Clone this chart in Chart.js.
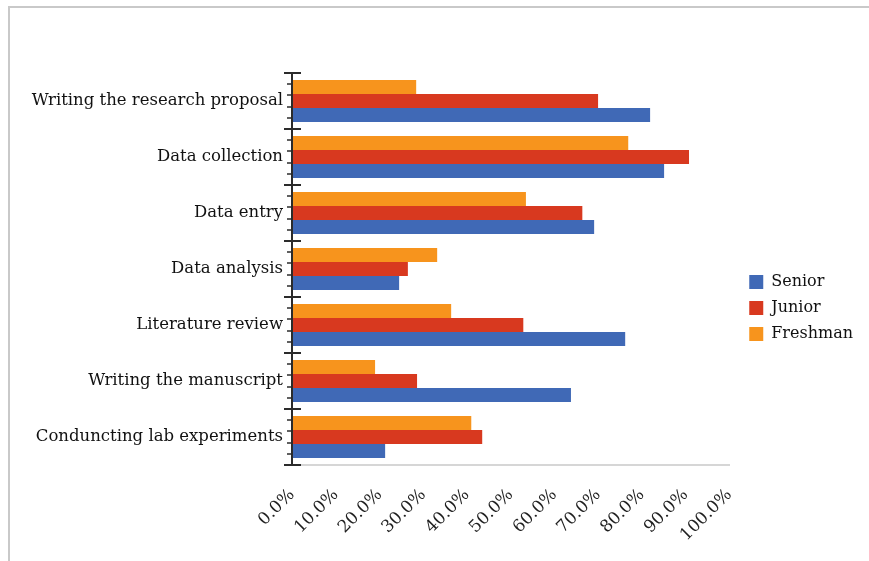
<!DOCTYPE html>
<html>
<head>
<meta charset="utf-8">
<script src="https://cdn.jsdelivr.net/npm/chart.js@4"></script>
<style>
  html, body { margin: 0; padding: 0; background: #fff; }
  #wrap { position: relative; width: 869px; height: 561px; }
  #frame { position: absolute; left: 8px; top: 6px; right: 0; bottom: 0;
           border-top: 2px solid #c9c9c9; border-left: 2px solid #c9c9c9; pointer-events: none; }
</style>
</head>
<body>
<div id="wrap">
  <canvas id="chart" width="869" height="561"></canvas>
  <div id="frame"></div>
</div>
<script>
// categories, top to bottom
const categories = [
  'Writing the research proposal',
  'Data collection',
  'Data entry',
  'Data analysis',
  'Literature review',
  'Writing the manuscript',
  'Conduncting lab experiments'
];
// percent values per group
const senior   = [81.9, 85.1, 69.1, 24.5, 76.2, 63.8, 21.3];
const junior   = [70.0, 90.8, 66.4, 26.5, 52.9, 28.6, 43.5];
const freshman = [28.4, 76.9, 53.5, 33.2, 36.4, 19.0, 41.0];
const xMin = 0, xMax = 100, xStep = 10;

const serif = 'DejaVu Serif';

// axis line + Excel-like major/minor tick marks on the category axis
const catTicks = {
  id: 'catTicks',
  afterDatasetsDraw(chart) {
    const ctx = chart.ctx;
    const area = chart.chartArea;
    const n = chart.scales.y.ticks.length;
    const band = (area.bottom - area.top) / n;
    const x = area.left;
    ctx.save();
    ctx.strokeStyle = '#2b2b2b';
    ctx.lineWidth = 2;
    ctx.beginPath();
    ctx.moveTo(x, area.top);
    ctx.lineTo(x, area.bottom);
    ctx.stroke();
    for (let i = 0; i <= n; i++) {
      const y = Math.round(area.top + i * band);
      ctx.lineWidth = 2;
      ctx.beginPath();
      ctx.moveTo(x - 8, y);
      ctx.lineTo(x + 9, y);
      ctx.stroke();
      if (i < n) {
        ctx.lineWidth = 1.5;
        for (let j = 1; j < 5; j++) {
          const ym = Math.round(area.top + i * band + j * band / 5);
          ctx.beginPath();
          ctx.moveTo(x - 5, ym);
          ctx.lineTo(x, ym);
          ctx.stroke();
        }
      }
    }
    ctx.restore();
  }
};

// push the legend a little away from the plot, like the original
const legendGap = {
  id: 'legendGap',
  afterLayout(chart) {
    const lg = chart.legend;
    if (!lg) return;
    lg.left += 10;
    lg.right += 10;
  }
};

new Chart(document.getElementById('chart'), {
  type: 'bar',
  data: {
    labels: categories,
    datasets: [
      { label: 'Freshman', data: freshman, backgroundColor: '#f7941d' },
      { label: 'Junior', data: junior, backgroundColor: '#d8391f' },
      { label: 'Senior', data: senior, backgroundColor: '#4069b6' }
    ]
  },
  options: {
    indexAxis: 'y',
    responsive: false,
    animation: false,
    categoryPercentage: 0.75,
    barPercentage: 1.0,
    layout: { padding: { top: 73, right: 16, bottom: 18, left: 0 } },
    scales: {
      x: {
        min: xMin,
        max: xMax,
        grid: { display: false, drawTicks: false },
        border: { display: true, color: '#d6d6d6', width: 2 },
        ticks: {
          stepSize: xStep,
          maxRotation: 45,
          minRotation: 45,
          padding: 20,
          color: '#1f1f1f',
          font: { family: serif, size: 17 },
          callback: v => v.toFixed(1) + '%'
        },
        afterFit: s => { s.height = 78; }
      },
      y: {
        grid: { display: false, drawTicks: false },
        border: { display: false },
        ticks: {
          padding: 9,
          color: '#111',
          font: { family: serif, size: 16.5 }
        },
        afterFit: s => { s.width = 292; }
      }
    },
    plugins: {
      legend: {
        position: 'right',
        reverse: true,
        labels: {
          boxWidth: 14,
          boxHeight: 14,
          padding: 10,
          color: '#111',
          font: { family: serif, size: 16 }
        }
      },
      tooltip: { enabled: false }
    }
  },
  plugins: [catTicks, legendGap]
});
</script>
</body>
</html>
